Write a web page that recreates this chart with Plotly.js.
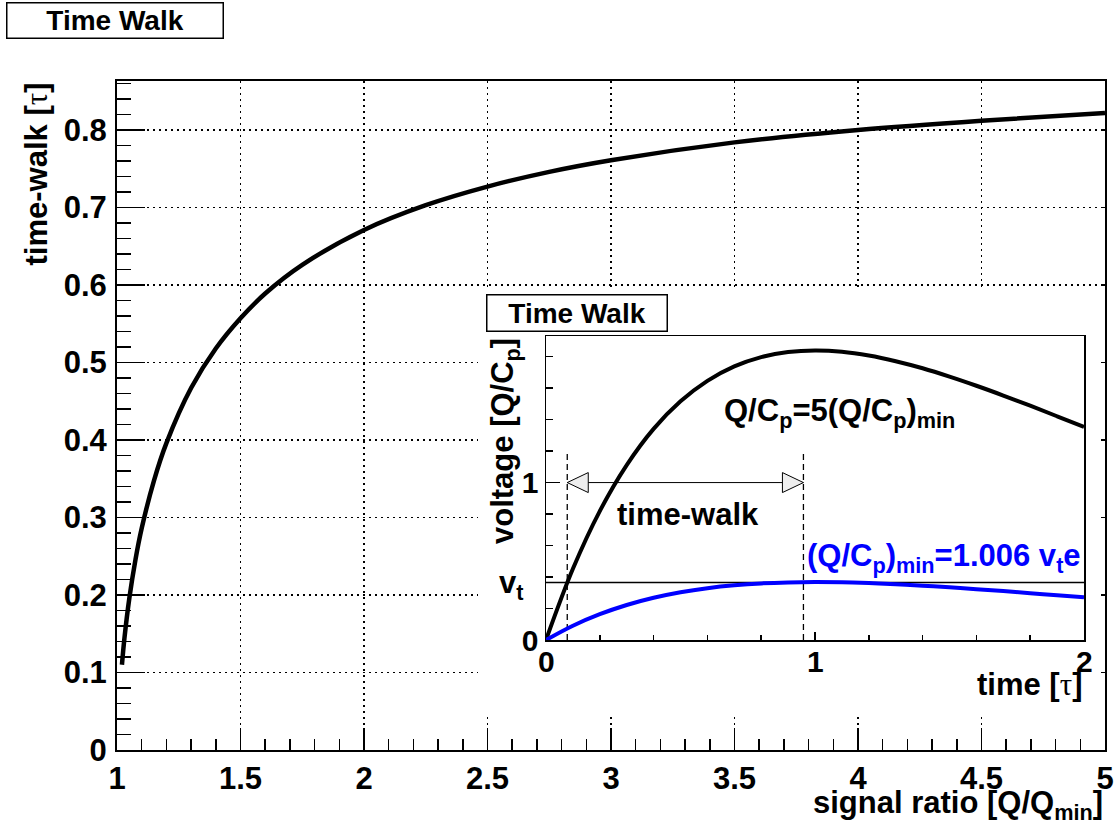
<!DOCTYPE html>
<html>
<head>
<meta charset="utf-8">
<script src="https://cdn.plot.ly/plotly-3.0.1.min.js"></script>
<style>html,body{margin:0;padding:0;background:#fff;}#chart{width:1115px;height:825px;}</style>
</head>
<body>
<div id="chart"></div>
<script>
// ---- main chart data: time-walk vs signal ratio ----
const signalRatio = [1.02, 1.03, 1.05, 1.075, 1.1, 1.15, 1.2, 1.3, 1.4, 1.5, 1.6, 1.75, 2.0, 2.25, 2.5, 2.75, 3.0, 3.5, 4.0, 4.5, 5.0];
const timeWalk    = [0.110, 0.144, 0.196, 0.246, 0.286, 0.348, 0.396, 0.467, 0.518, 0.557, 0.589, 0.626, 0.671, 0.703, 0.727, 0.746, 0.761, 0.784, 0.800, 0.812, 0.822];

// ---- inset data: voltage vs time ----
const timeTau  = [0, 0.1, 0.2, 0.3, 0.4, 0.5, 0.6, 0.7, 0.8, 0.9, 1.0, 1.1, 1.2, 1.3, 1.4, 1.5, 1.6, 1.7, 1.8, 1.9, 2.0];
const voltMin  = [0, 0.0905, 0.1637, 0.2222, 0.2681, 0.3033, 0.3293, 0.3476, 0.3595, 0.3659, 0.3679, 0.3662, 0.3614, 0.3543, 0.3452, 0.3347, 0.3230, 0.3106, 0.2975, 0.2842, 0.2707];
const volt5    = [0, 0.452, 0.819, 1.111, 1.341, 1.516, 1.646, 1.738, 1.797, 1.829, 1.839, 1.831, 1.807, 1.771, 1.726, 1.673, 1.615, 1.553, 1.488, 1.421, 1.353];
const thresholdX = [0, 2];
const thresholdV = [0.3657, 0.3657];
const crossTimes = [0.079, 0.957];   // threshold crossings (dashed lines)
const dashTop = 1.19;
const arrowLevel = 1;

// ---- tick labels ----
const xTickVals = [1, 1.5, 2, 2.5, 3, 3.5, 4, 4.5, 5];
const xTickText = ['1', '1.5', '2', '2.5', '3', '3.5', '4', '4.5', '5'];
const yTickVals = [0, 0.1, 0.2, 0.3, 0.4, 0.5, 0.6, 0.7, 0.8];
const yTickText = ['0', '0.1', '0.2', '0.3', '0.4', '0.5', '0.6', '0.7', '0.8'];
const insetXTickVals = [0, 1, 2];
const insetXTickText = ['0', '1', '2'];
const insetYTickVals = [0, 1];
const insetYTickText = ['0', '1'];

const FONT = 'Liberation Sans, Arial, Helvetica, sans-serif';
const bold = (size, color) => ({family: FONT, size: size, color: color || '#000', weight: 'bold'});
const TAU = '<span style="font-family:\'Liberation Serif\',serif;font-weight:normal">τ</span>';

const W = 1115, H = 825;
const mL = 117, mR = 10, mT = 81, mB = 75;
const plotW = W - mL - mR, plotH = H - mT - mB;
const px2paperX = p => (p - mL) / plotW;
const px2paperY = p => (H - mB - p) / plotH;

// inset geometry (paper domains)
const insetXDom = [px2paperX(546), px2paperX(1084)];
const insetYDom = [px2paperY(640), px2paperY(336)];
const padXDom = [px2paperX(478), px2paperX(1100)];
const padYDom = [px2paperY(715), px2paperY(288)];
const insetXRange = [0, 2];
const insetYRange = [0, 1.931];

const traces = [
  {x: signalRatio, y: timeWalk, type: 'scatter', mode: 'lines', line: {color: '#000', width: 4.5, shape: 'spline'}, xaxis: 'x', yaxis: 'y', hoverinfo: 'skip'},
  {x: [null], y: [null], type: 'scatter', mode: 'lines', xaxis: 'x', yaxis: 'y4', hoverinfo: 'skip'},
  {x: [null], y: [null], type: 'scatter', mode: 'lines', xaxis: 'x2', yaxis: 'y2', hoverinfo: 'skip'},
  // inset
  {x: thresholdX, y: thresholdV, type: 'scatter', mode: 'lines', line: {color: '#000', width: 1.5}, xaxis: 'x3', yaxis: 'y3', hoverinfo: 'skip'},
  {x: [crossTimes[0], crossTimes[0]], y: [0, dashTop], type: 'scatter', mode: 'lines', line: {color: '#000', width: 1.3, dash: '6px,4px'}, xaxis: 'x3', yaxis: 'y3', hoverinfo: 'skip'},
  {x: [crossTimes[1], crossTimes[1]], y: [0, dashTop], type: 'scatter', mode: 'lines', line: {color: '#000', width: 1.3, dash: '6px,4px'}, xaxis: 'x3', yaxis: 'y3', hoverinfo: 'skip'},
  {x: crossTimes, y: [arrowLevel, arrowLevel], type: 'scatter', mode: 'lines', line: {color: '#000', width: 1}, xaxis: 'x3', yaxis: 'y3', hoverinfo: 'skip'},
  {x: timeTau, y: volt5, type: 'scatter', mode: 'lines', line: {color: '#000', width: 4, shape: 'spline'}, xaxis: 'x3', yaxis: 'y3', hoverinfo: 'skip'},
  {x: timeTau, y: voltMin, type: 'scatter', mode: 'lines', line: {color: '#0000ff', width: 4, shape: 'spline'}, xaxis: 'x3', yaxis: 'y3', hoverinfo: 'skip'}
];

// arrow heads computed from arrow endpoints
const dxp = (insetXRange[1] - insetXRange[0]) / (1084 - 546);
const dyp = (insetYRange[1] - insetYRange[0]) / (640 - 336);
const headLen = 21, headHalf = 10;
function headPath(tipX, dir) {
  const bx = tipX + dir * headLen * dxp;
  return 'M' + tipX + ',' + arrowLevel + ' L' + bx + ',' + (arrowLevel + headHalf * dyp) + ' L' + bx + ',' + (arrowLevel - headHalf * dyp) + ' Z';
}

// inset x tick labels placed at the tick values of the inset axis
const insetXLabelAnns = insetXTickVals.map((v, i) => ({
  text: insetXTickText[i], xref: 'x3', yref: 'y3', x: v, y: insetYRange[0],
  xanchor: 'center', yanchor: 'top', yshift: -3, showarrow: false, font: bold(30)
}));

const layout = {
  width: W, height: H, autosize: false,
  margin: {l: mL, r: mR, t: mT, b: mB, pad: 0},
  paper_bgcolor: '#fff', plot_bgcolor: '#fff',
  showlegend: false,
  xaxis: {
    domain: [0, 1], range: [1, 5], anchor: 'y',
    tickmode: 'array', tickvals: xTickVals, ticktext: xTickText,
    ticks: 'inside', ticklen: 22, tickwidth: 1.5, tickcolor: '#000',
    minor: {dtick: 0.1, tick0: 1, ticks: 'inside', ticklen: 11, tickwidth: 1.5, tickcolor: '#000', showgrid: false},
    showgrid: true, gridcolor: '#000', gridwidth: 1.2, griddash: '2px,4px',
    zeroline: false, showline: true, linecolor: '#000', linewidth: 2, mirror: true,
    tickfont: bold(31), ticklabelstandoff: 0
  },
  yaxis: {
    domain: [0, 1], range: [0, 0.8632], anchor: 'x',
    tickmode: 'array', tickvals: yTickVals, ticktext: yTickText,
    ticks: 'inside', ticklen: 28, tickwidth: 1.5, tickcolor: '#000',
    minor: {dtick: 0.02, tick0: 0, ticks: 'inside', ticklen: 14, tickwidth: 1.5, tickcolor: '#000', showgrid: false},
    showgrid: true, gridcolor: '#000', gridwidth: 1.2, griddash: '2px,4px',
    zeroline: false, showline: true, linecolor: '#000', linewidth: 2, mirror: true,
    tickfont: bold(31), ticklabelstandoff: 2
  },
  yaxis4: {
    overlaying: 'y', side: 'right', anchor: 'x', range: [0, 0.8632],
    tickmode: 'array', tickvals: yTickVals, showticklabels: false,
    ticks: 'inside', ticklen: 4, tickwidth: 1.5, tickcolor: '#000',
    showgrid: false, zeroline: false, showline: false
  },
  // white pad behind the inset
  xaxis2: {domain: padXDom, anchor: 'y2', range: [0, 1], visible: true, showgrid: false, zeroline: false, showline: false, ticks: '', showticklabels: false},
  yaxis2: {domain: padYDom, anchor: 'x2', range: [0, 1], visible: true, showgrid: false, zeroline: false, showline: false, ticks: '', showticklabels: false},
  // inset axes
  xaxis3: {
    domain: insetXDom, anchor: 'y3', range: insetXRange,
    tickmode: 'array', tickvals: insetXTickVals, ticktext: insetXTickText, showticklabels: false,
    ticks: 'inside', ticklen: 8, tickwidth: 1.5, tickcolor: '#000',
    minor: {dtick: 0.2, tick0: 0, ticks: 'inside', ticklen: 5, tickwidth: 1.5, tickcolor: '#000', showgrid: false},
    showgrid: false, zeroline: false, showline: true, linecolor: '#000', linewidth: 1.5, mirror: true
  },
  yaxis3: {
    domain: insetYDom, anchor: 'x3', range: insetYRange,
    tickmode: 'array', tickvals: insetYTickVals, ticktext: insetYTickText,
    ticks: 'inside', ticklen: 14, tickwidth: 1.5, tickcolor: '#000',
    minor: {dtick: 0.2, tick0: 0, ticks: 'inside', ticklen: 7, tickwidth: 1.5, tickcolor: '#000', showgrid: false},
    showgrid: false, zeroline: false, showline: true, linecolor: '#000', linewidth: 1.5, mirror: true,
    tickfont: bold(30), ticklabelstandoff: 0
  },
  shapes: [
    {type: 'path', xref: 'x3', yref: 'y3', path: headPath(crossTimes[0], 1), fillcolor: '#eeeeee', line: {color: '#000', width: 1}, layer: 'above'},
    {type: 'path', xref: 'x3', yref: 'y3', path: headPath(crossTimes[1], -1), fillcolor: '#eeeeee', line: {color: '#000', width: 1}, layer: 'above'}
  ],
  annotations: [
    // main title box
    {text: 'Time Walk', xref: 'paper', yref: 'paper', x: px2paperX(6), y: px2paperY(2), xanchor: 'left', yanchor: 'top',
     showarrow: false, font: bold(28), bgcolor: '#fff', bordercolor: '#000', borderwidth: 1.5, borderpad: 0, width: 215, height: 34, align: 'center', valign: 'middle'},
    // main axis titles
    {text: 'signal ratio [Q/Q<sub>min</sub>]', xref: 'paper', yref: 'paper', x: 1.0, y: px2paperY(805), xanchor: 'right', yanchor: 'middle', showarrow: false, font: bold(31)},
    {text: 'time-walk [' + TAU + ']', xref: 'paper', yref: 'paper', x: px2paperX(36), y: 1.0, xanchor: 'center', yanchor: 'top', textangle: -90, showarrow: false, font: bold(31)},
    // inset title box
    {text: 'Time Walk', xref: 'paper', yref: 'paper', x: px2paperX(486), y: px2paperY(294), xanchor: 'left', yanchor: 'top',
     showarrow: false, font: bold(28), bgcolor: '#fff', bordercolor: '#000', borderwidth: 1.5, borderpad: 0, width: 179, height: 35, align: 'center', valign: 'middle'},
    // inset axis titles
    {text: 'voltage [Q/C<sub>p</sub>]', xref: 'paper', yref: 'paper', x: px2paperX(505), y: px2paperY(336), xanchor: 'center', yanchor: 'top', textangle: -90, showarrow: false, font: bold(31)},
    {text: 'time [' + TAU + ']', xref: 'paper', yref: 'paper', x: px2paperX(1084), y: px2paperY(684), xanchor: 'right', yanchor: 'middle', showarrow: false, font: bold(31)},
    // inset labels
    {text: 'v<sub>t</sub>', xref: 'paper', yref: 'paper', x: px2paperX(525), y: px2paperY(585), xanchor: 'right', yanchor: 'middle', showarrow: false, font: bold(31)},
    {text: 'Q/C<sub>p</sub>=5(Q/C<sub>p</sub>)<sub>min</sub>', xref: 'x3', yref: 'y3', x: 0.654, y: 1.44, xanchor: 'left', yanchor: 'middle', showarrow: false, font: bold(31)},
    {text: 'time-walk', xref: 'x3', yref: 'y3', x: 0.527, y: 0.796, xanchor: 'center', yanchor: 'middle', showarrow: false, font: bold(31)},
    {text: '(Q/C<sub>p</sub>)<sub>min</sub>=1.006 v<sub>t</sub>e', xref: 'x3', yref: 'y3', x: 1.998, y: 0.52, xanchor: 'right', yanchor: 'middle', showarrow: false, font: bold(31, '#0000ff')}
  ].concat(insetXLabelAnns)
};

Plotly.newPlot('chart', traces, layout, {staticPlot: true, displayModeBar: false});
</script>
</body>
</html>
